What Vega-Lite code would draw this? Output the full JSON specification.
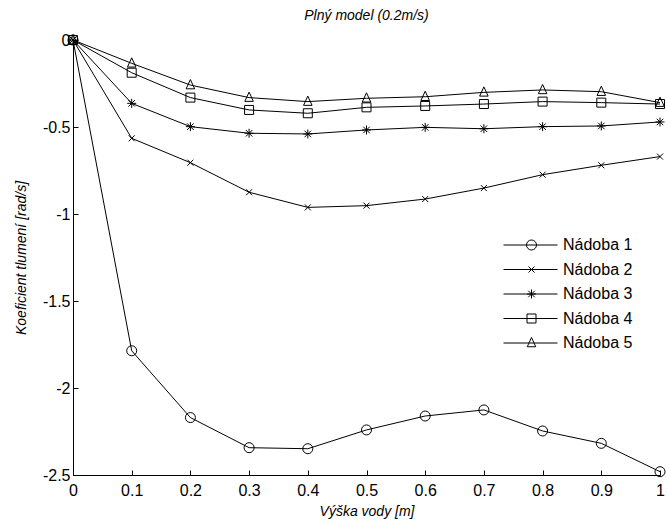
{
  "$schema": "https://vega.github.io/schema/vega-lite/v6.json",
  "width": 587,
  "height": 435,
  "autosize": "none",
  "padding": {"left": 73, "top": 40, "right": 7, "bottom": 49},
  "background": "white",
  "config": {
    "view": {"stroke": null},
    "font": "Liberation Sans",
    "axis": {
      "domainColor": "black",
      "domainWidth": 1,
      "tickColor": "black",
      "tickWidth": 1,
      "tickSize": -5,
      "labelColor": "black",
      "labelFont": "Liberation Sans",
      "labelFontSize": 16,
      "labelOverlap": false,
      "labelFlush": false,
      "labelBound": false,
      "grid": false,
      "titleFont": "Liberation Sans",
      "titleFontSize": 14,
      "titleFontWeight": "normal",
      "titleFontStyle": "italic",
      "titleColor": "black"
    }
  },
  "title": {
    "text": "Plný model (0.2m/s)",
    "font": "Liberation Sans",
    "fontSize": 14,
    "fontStyle": "italic",
    "fontWeight": "normal",
    "color": "black",
    "offset": 9
  },
  "data": {
    "values": [
      {"x": 0, "y": 0, "s": "Nádoba 1"},
      {"x": 0.1, "y": -1.786, "s": "Nádoba 1"},
      {"x": 0.2, "y": -2.17, "s": "Nádoba 1"},
      {"x": 0.3, "y": -2.343, "s": "Nádoba 1"},
      {"x": 0.4, "y": -2.349, "s": "Nádoba 1"},
      {"x": 0.5, "y": -2.241, "s": "Nádoba 1"},
      {"x": 0.6, "y": -2.161, "s": "Nádoba 1"},
      {"x": 0.7, "y": -2.126, "s": "Nádoba 1"},
      {"x": 0.8, "y": -2.247, "s": "Nádoba 1"},
      {"x": 0.9, "y": -2.318, "s": "Nádoba 1"},
      {"x": 1, "y": -2.481, "s": "Nádoba 1"},
      {"x": 0, "y": 0, "s": "Nádoba 2"},
      {"x": 0.1, "y": -0.565, "s": "Nádoba 2"},
      {"x": 0.2, "y": -0.705, "s": "Nádoba 2"},
      {"x": 0.3, "y": -0.875, "s": "Nádoba 2"},
      {"x": 0.4, "y": -0.962, "s": "Nádoba 2"},
      {"x": 0.5, "y": -0.952, "s": "Nádoba 2"},
      {"x": 0.6, "y": -0.914, "s": "Nádoba 2"},
      {"x": 0.7, "y": -0.851, "s": "Nádoba 2"},
      {"x": 0.8, "y": -0.774, "s": "Nádoba 2"},
      {"x": 0.9, "y": -0.72, "s": "Nádoba 2"},
      {"x": 1, "y": -0.67, "s": "Nádoba 2"},
      {"x": 0, "y": 0, "s": "Nádoba 3"},
      {"x": 0.1, "y": -0.364, "s": "Nádoba 3"},
      {"x": 0.2, "y": -0.498, "s": "Nádoba 3"},
      {"x": 0.3, "y": -0.536, "s": "Nádoba 3"},
      {"x": 0.4, "y": -0.54, "s": "Nádoba 3"},
      {"x": 0.5, "y": -0.517, "s": "Nádoba 3"},
      {"x": 0.6, "y": -0.502, "s": "Nádoba 3"},
      {"x": 0.7, "y": -0.51, "s": "Nádoba 3"},
      {"x": 0.8, "y": -0.498, "s": "Nádoba 3"},
      {"x": 0.9, "y": -0.494, "s": "Nádoba 3"},
      {"x": 1, "y": -0.471, "s": "Nádoba 3"},
      {"x": 0, "y": 0, "s": "Nádoba 4"},
      {"x": 0.1, "y": -0.188, "s": "Nádoba 4"},
      {"x": 0.2, "y": -0.331, "s": "Nádoba 4"},
      {"x": 0.3, "y": -0.402, "s": "Nádoba 4"},
      {"x": 0.4, "y": -0.421, "s": "Nádoba 4"},
      {"x": 0.5, "y": -0.387, "s": "Nádoba 4"},
      {"x": 0.6, "y": -0.379, "s": "Nádoba 4"},
      {"x": 0.7, "y": -0.368, "s": "Nádoba 4"},
      {"x": 0.8, "y": -0.354, "s": "Nádoba 4"},
      {"x": 0.9, "y": -0.36, "s": "Nádoba 4"},
      {"x": 1, "y": -0.368, "s": "Nádoba 4"},
      {"x": 0, "y": 0, "s": "Nádoba 5"},
      {"x": 0.1, "y": -0.134, "s": "Nádoba 5"},
      {"x": 0.2, "y": -0.259, "s": "Nádoba 5"},
      {"x": 0.3, "y": -0.331, "s": "Nádoba 5"},
      {"x": 0.4, "y": -0.354, "s": "Nádoba 5"},
      {"x": 0.5, "y": -0.335, "s": "Nádoba 5"},
      {"x": 0.6, "y": -0.326, "s": "Nádoba 5"},
      {"x": 0.7, "y": -0.301, "s": "Nádoba 5"},
      {"x": 0.8, "y": -0.287, "s": "Nádoba 5"},
      {"x": 0.9, "y": -0.297, "s": "Nádoba 5"},
      {"x": 1, "y": -0.36, "s": "Nádoba 5"}
    ]
  },
  "encoding": {
    "x": {
      "field": "x",
      "type": "quantitative",
      "scale": {"domain": [0, 1], "nice": false, "zero": false},
      "axis": {
        "values": [0, 0.1, 0.2, 0.3, 0.4, 0.5, 0.6, 0.7, 0.8, 0.9, 1],
        "labelExpr": "'' + datum.value",
        "labelPadding": 12,
        "title": "Výška vody [m]",
        "titlePadding": 6
      }
    },
    "y": {
      "field": "y",
      "type": "quantitative",
      "scale": {"domain": [-2.5, 0], "nice": false, "zero": false},
      "axis": {
        "values": [-2.5, -2, -1.5, -1, -0.5, 0],
        "labelExpr": "'' + datum.value",
        "labelPadding": 8,
        "title": "Koeficient tlumení [rad/s]",
        "titlePadding": 14
      }
    }
  },
  "layer": [
    {
      "mark": {"type": "line", "strokeWidth": 1},
      "encoding": {
        "color": {
          "field": "s",
          "type": "nominal",
          "scale": {
            "domain": ["Nádoba 1", "Nádoba 2", "Nádoba 3", "Nádoba 4", "Nádoba 5"],
            "range": ["black", "black", "black", "black", "black"]
          },
          "legend": {
            "orient": "none",
            "legendX": 430,
            "legendY": 197,
            "title": null,
            "padding": 0,
            "symbolType": "stroke",
            "symbolSize": 2916,
            "symbolStrokeWidth": 1,
            "symbolStrokeColor": "black",
            "labelFont": "Liberation Sans",
            "labelFontSize": 16,
            "labelColor": "black",
            "labelOffset": 5,
            "clipHeight": 16,
            "rowPadding": 8.5
          }
        }
      }
    },
    {
      "mark": {"type": "point", "filled": false, "color": "black", "strokeWidth": 1, "size": 100, "opacity": 1},
      "encoding": {
        "shape": {
          "field": "s",
          "type": "nominal",
          "scale": {
            "range": [
              "circle",
              "M-0.6,-0.6L0.6,0.6M-0.6,0.6L0.6,-0.6",
              "M-0.9,0L0.9,0M0,-0.9L0,0.9M-0.65,-0.65L0.65,0.65M-0.65,0.65L0.65,-0.65",
              "M-0.9,-0.9L0.9,-0.9L0.9,0.9L-0.9,0.9Z",
              "M0,-1.1L0.85,0.75L-0.85,0.75Z"
            ]
          },
          "legend": {
            "orient": "none",
            "legendX": 450.5,
            "legendY": 197,
            "title": null,
            "padding": 0,
            "symbolSize": 100,
            "symbolStrokeWidth": 1,
            "symbolStrokeColor": "black",
            "symbolFillColor": "transparent",
            "symbolOpacity": 1,
            "labelFont": "Liberation Sans",
            "labelFontSize": 16,
            "labelExpr": "''",
            "clipHeight": 16,
            "rowPadding": 8.5
          }
        }
      }
    }
  ]
}
